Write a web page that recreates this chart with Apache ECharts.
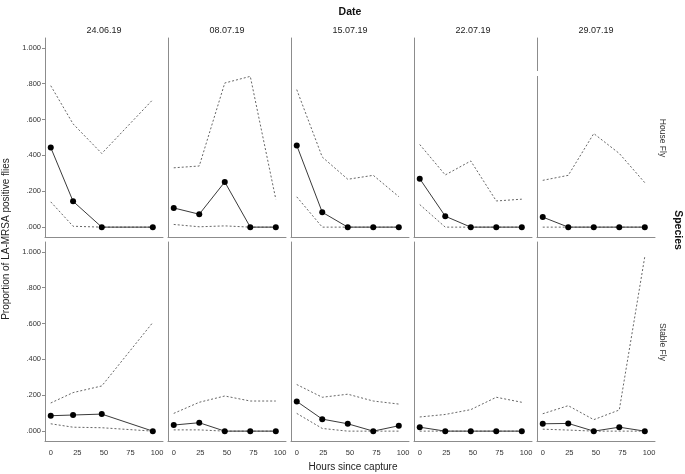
<!DOCTYPE html>
<html>
<head>
<meta charset="utf-8">
<script src="https://cdn.jsdelivr.net/npm/echarts@6/dist/echarts.min.js"></script>
<style>
html, body { margin: 0; padding: 0; background: #fff; }
#chart { width: 685px; height: 474px; }
</style>
</head>
<body>
<div id="chart"></div>
<script>
// dates (columns) and species (rows)
var dates = ['24.06.19', '08.07.19', '15.07.19', '22.07.19', '29.07.19'];
var species = ['House Fly', 'Stable Fly'];

// hours since capture, per date
var hours = [
    [0, 21, 48, 96],
    [0, 24, 48, 72, 96],
    [0, 24, 48, 72, 96],
    [0, 24, 48, 72, 96],
    [0, 24, 48, 72, 96]
];

// House Fly: estimate, upper and lower bounds
var houseEst = [
    [0.444, 0.144, 0, 0],
    [0.107, 0.072, 0.252, 0, 0],
    [0.456, 0.083, 0, 0, 0],
    [0.270, 0.061, 0, 0, 0],
    [0.056, 0, 0, 0, 0]
];
var houseUpper = [
    [0.789, 0.576, 0.411, 0.711],
    [0.331, 0.341, 0.804, 0.841, 0.156],
    [0.767, 0.391, 0.267, 0.289, 0.170],
    [0.461, 0.291, 0.369, 0.146, 0.156],
    [0.261, 0.289, 0.522, 0.411, 0.248]
];
var houseLower = [
    [0.141, 0.005, 0, 0],
    [0.015, 0.002, 0.007, 0, 0],
    [0.169, 0, 0, 0, 0],
    [0.126, 0, 0, 0, 0],
    [0, 0, 0, 0, 0]
];

// Stable Fly
var stableEst = [
    [0.086, 0.090, 0.095, 0],
    [0.034, 0.047, 0, 0, 0],
    [0.166, 0.067, 0.041, 0, 0.030],
    [0.022, 0, 0, 0, 0],
    [0.041, 0.043, 0, 0.022, 0]
];
var stableUpper = [
    [0.157, 0.215, 0.252, 0.606],
    [0.099, 0.161, 0.196, 0.168, 0.168],
    [0.260, 0.189, 0.206, 0.168, 0.151],
    [0.079, 0.093, 0.120, 0.189, 0.161],
    [0.097, 0.142, 0.064, 0.118, 0.974]
];
var stableLower = [
    [0.041, 0.022, 0.019, 0],
    [0.007, 0.007, 0, 0, 0],
    [0.099, 0.015, 0, 0, 0],
    [0, 0, 0, 0, 0],
    [0.011, 0.006, 0, 0, 0]
];

var xTicks = [0, 25, 50, 75, 100];
var yTicks = [0, 0.2, 0.4, 0.6, 0.8, 1.0];

var FONT = '"Liberation Sans", Arial, sans-serif';
var AXIS_COLOR = '#8c8c8c';
var colLeft = [45, 168, 291, 414, 537];
var rowTop = [38, 242];
var panelW = 118, panelH = 199;

var chart = echarts.init(document.getElementById('chart'));

var grids = [], xAxes = [], yAxes = [], series = [];
var rowData = [
    {est: houseEst, up: houseUpper, lo: houseLower},
    {est: stableEst, up: stableUpper, lo: stableLower}
];

function pairs(xs, ys) {
    return xs.map(function (x, i) {
        return [x, ys[i]];
    });
}

rowData.forEach(function (rd, r) {
    dates.forEach(function (d, c) {
        var idx = grids.length;
        grids.push({left: colLeft[c], top: rowTop[r], width: panelW, height: panelH, containLabel: false});
        xAxes.push({
            gridIndex: idx,
            type: 'value',
            min: -5.4,
            max: 105.6,
            axisLine: {show: true, onZero: false, lineStyle: {color: AXIS_COLOR, width: 1}},
            axisTick: {show: false},
            splitLine: {show: false},
            axisLabel: {
                show: r === 1,
                customValues: xTicks,
                fontSize: 7.5,
                fontFamily: FONT,
                color: '#333',
                margin: 8
            }
        });
        yAxes.push({
            gridIndex: idx,
            type: 'value',
            min: -0.055,
            max: 1.055,
            axisLine: {show: true, onZero: false, lineStyle: {color: AXIS_COLOR, width: 1}},
            axisTick: {show: c === 0, customValues: yTicks, length: 3, lineStyle: {color: AXIS_COLOR}},
            splitLine: {show: false},
            axisLabel: {
                show: c === 0,
                customValues: yTicks,
                fontSize: 7.5,
                fontFamily: FONT,
                color: '#333',
                margin: 4,
                formatter: function (v) {
                    return v >= 1 ? '1.000' : v.toFixed(3).replace(/^0/, '');
                }
            }
        });
        // confidence bounds (dashed)
        [rd.up[c], rd.lo[c]].forEach(function (vals) {
            series.push({
                type: 'line',
                xAxisIndex: idx,
                yAxisIndex: idx,
                data: pairs(hours[c], vals),
                symbol: 'none',
                silent: true,
                z: 2,
                lineStyle: {color: '#555', width: 0.9, type: [2, 2]}
            });
        });
        // estimate
        series.push({
            type: 'line',
            xAxisIndex: idx,
            yAxisIndex: idx,
            data: pairs(hours[c], rd.est[c]),
            symbol: 'circle',
            symbolSize: 6,
            showSymbol: true,
            silent: true,
            z: 3,
            lineStyle: {color: '#3a3a3a', width: 1},
            itemStyle: {color: '#000'}
        });
    });
});

var graphics = [
    {type: 'text', x: 350, y: 7, style: {text: 'Date', font: 'bold 10.5px ' + FONT, fill: '#111', textAlign: 'center'}},
    {type: 'text', x: 353, y: 462, style: {text: 'Hours since capture', font: '10px ' + FONT, fill: '#222', textAlign: 'center'}},
    {type: 'text', x: 6, y: 239, rotation: Math.PI / 2, style: {text: 'Proportion of LA-MRSA positive flies', font: '10px ' + FONT, fill: '#222', textAlign: 'center', textVerticalAlign: 'middle'}},
    {type: 'text', x: 678, y: 230, rotation: -Math.PI / 2, style: {text: 'Species', font: 'bold 10.5px ' + FONT, fill: '#111', textAlign: 'center', textVerticalAlign: 'middle'}},
    // gap in the left axis line of the last top panel
    {type: 'rect', shape: {x: 535, y: 71, width: 5, height: 5}, style: {fill: '#fff'}, z: 100}
];
dates.forEach(function (d, c) {
    graphics.push({type: 'text', x: colLeft[c] + panelW / 2, y: 26, style: {text: d, font: '9px ' + FONT, fill: '#222', textAlign: 'center'}});
});
species.forEach(function (s, r) {
    graphics.push({
        type: 'text', x: 662, y: r === 0 ? 138 : 342, rotation: -Math.PI / 2,
        style: {text: s, font: '8.5px ' + FONT, fill: '#333', textAlign: 'center', textVerticalAlign: 'middle'}
    });
});

chart.setOption({
    animation: false,
    backgroundColor: '#fff',
    grid: grids,
    xAxis: xAxes,
    yAxis: yAxes,
    series: series,
    graphic: graphics
});
</script>
</body>
</html>
